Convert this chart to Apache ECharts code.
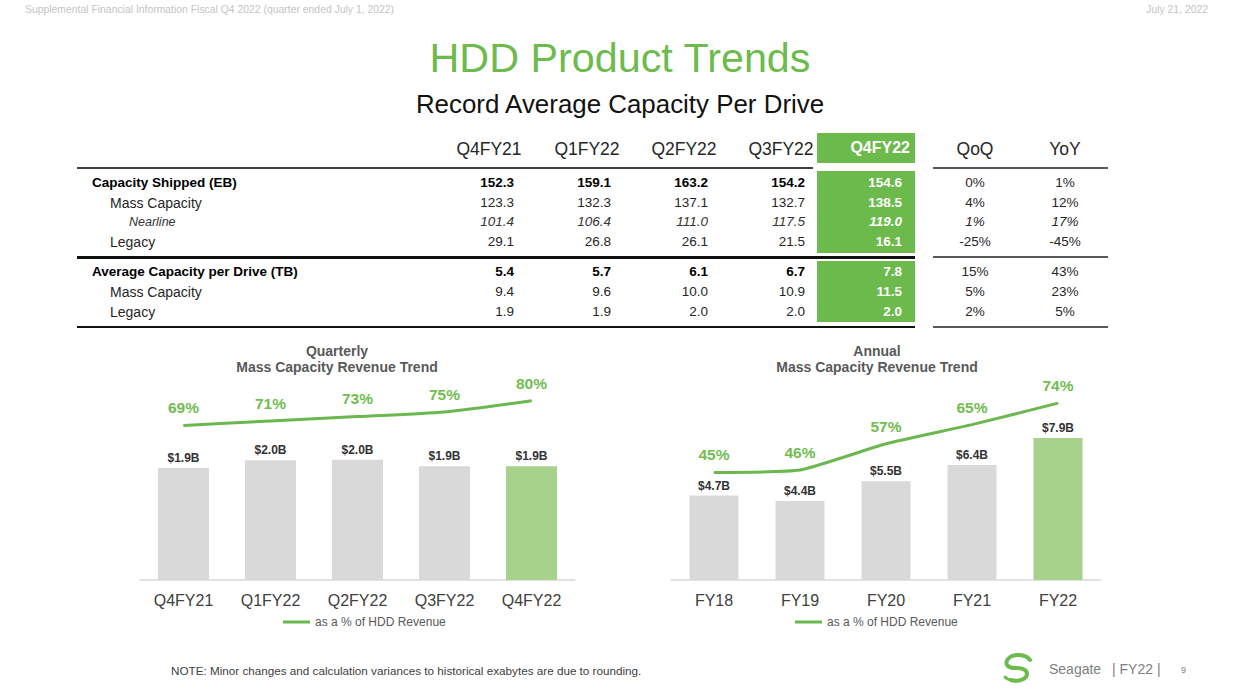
<!DOCTYPE html>
<html><head><meta charset="utf-8">
<script src="https://cdn.jsdelivr.net/npm/echarts/dist/echarts.min.js"></script>
<style>
body{margin:0;background:#fff;font-family:"Liberation Sans",Arial,sans-serif;}
#page{position:relative;width:1240px;height:700px;overflow:hidden;background:#fff;}
#chart{position:absolute;left:0;top:0;width:1240px;height:700px;}
.t{position:absolute;white-space:nowrap;height:20px;line-height:20px;}
.box{position:absolute;background:#6cb94c;}
.rule{position:absolute;}
</style></head>
<body><div id="page"><div id="chart"></div></div>
<script>
// ---------- data ----------
const quarters = ['Q4FY21','Q1FY22','Q2FY22','Q3FY22','Q4FY22'];
const changeHeaders = ['QoQ','YoY'];
const rowLabels = ['Capacity Shipped (EB)','Mass Capacity','Nearline','Legacy','Average Capacity per Drive (TB)','Mass Capacity','Legacy'];
const rowKind = ['head','sub','subsub','sub','head','sub','sub'];
const capacityShipped   = [152.3,159.1,163.2,154.2,154.6];
const capMassCapacity   = [123.3,132.3,137.1,132.7,138.5];
const capNearline       = [101.4,106.4,111.0,117.5,119.0];
const capLegacy         = [29.1,26.8,26.1,21.5,16.1];
const avgCapacity       = [5.4,5.7,6.1,6.7,7.8];
const avgMassCapacity   = [9.4,9.6,10.0,10.9,11.5];
const avgLegacy         = [1.9,1.9,2.0,2.0,2.0];
const qoqChange = ['0%','4%','1%','-25%','15%','5%','2%'];
const yoyChange = ['1%','12%','17%','-45%','43%','23%','5%'];

const qtrCategories = ['Q4FY21','Q1FY22','Q2FY22','Q3FY22','Q4FY22'];
const qtrRevenue = [1.90,2.03,2.04,1.93,1.93];   // $B
const qtrPct = [69,71,73,75,80];                  // % of HDD revenue
const fyCategories = ['FY18','FY19','FY20','FY21','FY22'];
const fyRevenue = [4.7,4.4,5.5,6.4,7.9];          // $B
const fyPct = [45,46,57,65,74];
const lineName = 'as a % of HDD Revenue';

// ---------- html texts / table ----------
const page = document.getElementById('page');
function add(html, css, cls){const d=document.createElement('div');d.className=cls||'t';d.innerHTML=html;Object.assign(d.style,css);page.appendChild(d);return d;}
const FONT='"Liberation Sans",Arial,sans-serif';
add('Supplemental Financial Information Fiscal Q4 2022 (quarter ended July 1, 2022)',{left:'25px',top:'0px',fontSize:'10.4px',color:'#c4c4c4'});
add('July 21, 2022',{right:'32px',top:'0px',fontSize:'10.4px',color:'#c4c4c4'});
add('HDD Product Trends',{left:'0',width:'1240px',textAlign:'center',top:'36px',height:'44px',lineHeight:'44px',fontSize:'41.3px',color:'#6cbb4c'});
add('Record Average Capacity Per Drive',{left:'0',width:'1240px',textAlign:'center',top:'90px',height:'28px',lineHeight:'28px',fontSize:'25.9px',color:'#111'});

// green column boxes
add('',{left:'817px',top:'133px',width:'98px',height:'30px'},'box');
add('',{left:'817px',top:'171px',width:'98px',height:'82px'},'box');
add('',{left:'817px',top:'261px',width:'98px',height:'61px'},'box');
// rules
add('',{left:'77px',top:'167px',width:'736px',height:'2px',background:'#404040'},'rule');
add('',{left:'933px',top:'167px',width:'175px',height:'2px',background:'#595959'},'rule');
add('',{left:'77px',top:'256px',width:'838px',height:'3px',background:'#111'},'rule');
add('',{left:'933px',top:'256px',width:'175px',height:'2px',background:'#595959'},'rule');
add('',{left:'77px',top:'326px',width:'838px',height:'2px',background:'#111'},'rule');
add('',{left:'933px',top:'326px',width:'175px',height:'2px',background:'#595959'},'rule');

const colRight = [514,611,708,805,902];
const headCenter = [489,587,684,781];
const chgCenter = [975,1065];
const rowY = [183,203,222,242,272,292,312];
const rowValues = [capacityShipped,capMassCapacity,capNearline,capLegacy,avgCapacity,avgMassCapacity,avgLegacy];

quarters.forEach((q,i)=>{
  if(i<4) add(q,{left:(headCenter[i]-50)+'px',width:'100px',textAlign:'center',top:'138px',height:'22px',lineHeight:'22px',fontSize:'17.5px',color:'#262626'});
  else add(q,{left:'810px',width:'100px',textAlign:'right',top:'137px',height:'22px',lineHeight:'22px',fontSize:'16px',fontWeight:'bold',color:'#fff'});
});
changeHeaders.forEach((h,i)=>add(h,{left:(chgCenter[i]-50)+'px',width:'100px',textAlign:'center',top:'138px',height:'22px',lineHeight:'22px',fontSize:'17.5px',color:'#262626'}));

rowLabels.forEach((lab,r)=>{
  const k=rowKind[r];
  const css={top:(rowY[r]-10)+'px'};
  if(k==='head'){Object.assign(css,{left:'92px',fontSize:'13.5px',fontWeight:'bold',color:'#000'});}
  else if(k==='sub'){Object.assign(css,{left:'110px',fontSize:'14px',color:'#262626'});}
  else {Object.assign(css,{left:'129px',fontSize:'12.5px',fontStyle:'italic',color:'#333'});}
  add(lab,css);
  rowValues[r].forEach((v,c)=>{
    const vc={left:(colRight[c]-80)+'px',width:'80px',textAlign:'right',top:(rowY[r]-10)+'px',fontSize:'13.5px',color:'#262626'};
    if(k==='head') {vc.fontWeight='bold'; vc.color='#000';}
    if(k==='subsub') {vc.fontStyle='italic'; vc.color='#333';}
    if(c===4) {vc.color='#fff'; vc.fontWeight='bold';}
    add(v.toFixed(1),vc);
  });
  [qoqChange[r],yoyChange[r]].forEach((v,c)=>{
    const vc={left:(chgCenter[c]-50)+'px',width:'100px',textAlign:'center',top:(rowY[r]-10)+'px',fontSize:'13.5px',color:'#262626'};
    if(k==='subsub') vc.fontStyle='italic';
    add(v,vc);
  });
});

add('NOTE: Minor changes and calculation variances to historical exabytes are due to rounding.',{left:'171px',top:'661px',fontSize:'11.7px',color:'#404040'});
add('<svg width="40" height="34" viewBox="0 0 40 34"><path d="M31 9 C27 3 14 2 9 8 C5 13 9 17 16 17 C22 17 28 18 28 23 C28 28 20 31 12 29" stroke="#6cbb4c" stroke-width="4" fill="none" stroke-linecap="round"/><path d="M6 26 C9 29 13 30 17 30" stroke="#6cbb4c" stroke-width="3" fill="none" stroke-linecap="round"/></svg>',{left:'999px',top:'651px',height:'34px',lineHeight:'34px'});
add('Seagate',{left:'1049px',top:'659px',fontSize:'14px',color:'#808080'});
add('| FY22 |',{left:'1112px',top:'659px',fontSize:'14px',color:'#808080'});
add('9',{left:'1181px',top:'660px',fontSize:'9px',color:'#808080'});

// ---------- charts ----------
const chart = echarts.init(document.getElementById('chart'), null, {renderer:'svg'});
const LINEGREEN='#6ab84f', LABELGREEN='#70bd50', BARGREEN='#a6d28b', GRAY='#d9d9d9';
function barSeries(data, xi, yi, w){
  return {type:'bar', name:'Mass Capacity Revenue', xAxisIndex:xi, yAxisIndex:yi, data:data, barWidth:w,
    itemStyle:{color:p=>p.dataIndex===data.length-1?BARGREEN:GRAY},
    label:{show:true, position:'top', distance:4, formatter:p=>'$'+p.value.toFixed(1)+'B', fontSize:12, fontWeight:'bold', color:'#333', fontFamily:FONT}};
}
function lineSeries(data, xi, yi, sm){
  return {type:'line', name:lineName, xAxisIndex:xi, yAxisIndex:yi, data:data, smooth:sm, symbol:'circle', symbolSize:1, z:5,
    lineStyle:{width:3, color:LINEGREEN}, itemStyle:{color:LINEGREEN},
    label:{show:true, position:'top', distance:9, formatter:'{c}%', fontSize:15.5, fontWeight:'bold', color:LABELGREEN, fontFamily:FONT}};
}
function xAxis(data, gi){
  return {type:'category', gridIndex:gi, data:data, axisLine:{lineStyle:{color:'#d9d9d9', width:1.5}}, axisTick:{show:false},
    axisLabel:{fontSize:16, color:'#404040', margin:12, fontFamily:FONT}};
}
const titleStyle = {fontSize:14, fontWeight:'bold', fill:'#595959', lineHeight:16, fontFamily:FONT, textAlign:'center', align:'center', textVerticalAlign:'top', verticalAlign:'top'};
const legendBase = {data:[lineName], icon:'rect', itemWidth:27, itemHeight:3, top:611, textStyle:{fontSize:12, color:'#595959', fontFamily:FONT}};
chart.setOption({
  animation:false,
  textStyle:{fontFamily:FONT},
  grid:[{left:140, top:356, width:435, height:224}, {left:671, top:341, width:430, height:239}],
  xAxis:[xAxis(qtrCategories,0), xAxis(fyCategories,1)],
  yAxis:[
    {type:'value', gridIndex:0, min:0, max:3.8, show:false},
    {type:'value', gridIndex:0, min:0, max:100, show:false},
    {type:'value', gridIndex:1, min:0, max:13.3, show:false},
    {type:'value', gridIndex:1, min:0, max:100, show:false}
  ],
  legend:[Object.assign({left:278}, legendBase), Object.assign({left:790}, legendBase)],
  graphic:[
    {type:'text', x:337, y:343, style:Object.assign({text:'Quarterly\nMass Capacity Revenue Trend'}, titleStyle)},
    {type:'text', x:877, y:343, style:Object.assign({text:'Annual\nMass Capacity Revenue Trend'}, titleStyle)}
  ],
  series:[
    barSeries(qtrRevenue,0,0,51), lineSeries(qtrPct,0,1,0.25),
    barSeries(fyRevenue,1,2,49), lineSeries(fyPct,1,3,0.15)
  ]
});
</script></body></html>
